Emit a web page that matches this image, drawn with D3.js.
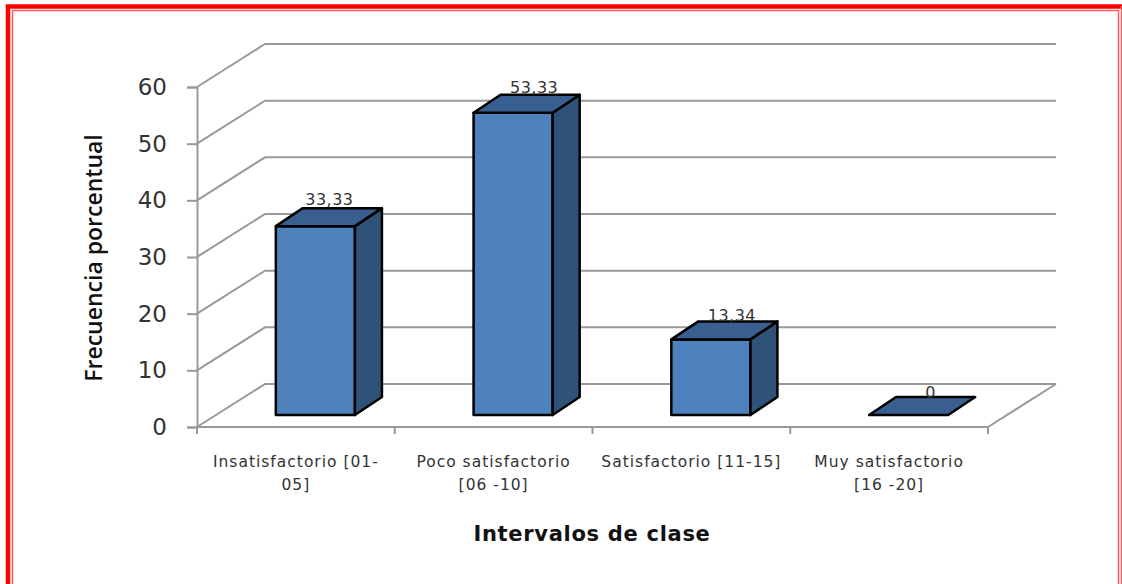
<!DOCTYPE html>
<html>
<head>
    <title>Frecuencia porcentual</title>
    <script src="https://d3js.org/d3.v7.min.js"></script>
    <style>
        html, body { margin: 0; padding: 0; background: #fff; overflow: hidden; }
        svg { display: block; }
        text { font-family: "DejaVu Sans", sans-serif; fill: #333; }
        .title { fill: #111; font-weight: bold; }
        #ytitle { font-family: "Open Sans", sans-serif; font-weight: 600; }
    </style>
</head>
<body>
    <div id="chart"></div>
    <script>
        const categories = [["Insatisfactorio [01-", "05]"], ["Poco satisfactorio", "[06 -10]"], ["Satisfactorio [11-15]"], ["Muy satisfactorio", "[16 -20]"]];
        const values = [33.33, 53.33, 13.34, 0];
        const valueLabels = ["33,33", "53,33", "13,34", "0"];
        const yTicks = [0, 10, 20, 30, 40, 50, 60];

        const svg = d3.select("#chart").append("svg").attr("width", 1122).attr("height", 584);

        // frame: thick red line and a thin one inside it
        svg.append("rect").attr("x", 8).attr("y", 6.5).attr("width", 1130).attr("height", 600)
            .attr("fill", "none").attr("stroke", "#ff0000").attr("stroke-width", 4.5);
        svg.append("rect").attr("x", 12.5).attr("y", 10.5).attr("width", 1106).attr("height", 600)
            .attr("fill", "none").attr("stroke", "#ff5a5a").attr("stroke-width", 1.5);
        svg.append("line").attr("x1", 1121.5).attr("x2", 1121.5).attr("y1", 6).attr("y2", 584)
            .attr("stroke", "#ff5a5a").attr("stroke-width", 1.5);

        const x = d3.scaleBand().domain(d3.range(categories.length)).range([197, 988])
            .paddingInner(0.6).paddingOuter(0.3);
        const y = d3.scaleLinear().domain([0, 60]).range([427, 87]);
        const h = d3.scaleLinear().domain([0, 60]).range([0, 340]);

        const wallDx = 68, wallDy = -43;
        const floorDx = 19.5, floorDy = -12;
        const barDx = 27, barDy = -18;
        const grey = "#999";

        // back wall and side wall
        const grid = svg.append("g").attr("fill", "none").attr("stroke", grey).attr("stroke-width", 2);
        grid.selectAll("path").data(yTicks).enter().append("path")
            .attr("d", d => `M197,${y(d)}L${197 + wallDx},${y(d) + wallDy}H${988 + wallDx}`);
        // floor edge on the right
        grid.append("path").attr("d", `M988,${y(0)}L${988 + wallDx},${y(0) + wallDy}`);

        // axes
        const yAxis = d3.axisLeft(y).tickValues(yTicks).tickSize(10).tickPadding(20);
        const gy = svg.append("g").attr("transform", "translate(197,0)").call(yAxis);
        gy.selectAll("path,line").attr("stroke", grey).attr("stroke-width", 2);
        gy.selectAll("text").attr("font-size", 23);

        const xTickPos = d3.range(categories.length + 1).map(i => 197 + i * x.step());
        svg.append("line").attr("x1", 197).attr("x2", 988).attr("y1", y(0)).attr("y2", y(0))
            .attr("stroke", grey).attr("stroke-width", 2);
        svg.selectAll(".xtick").data(xTickPos).enter().append("line").attr("class", "xtick")
            .attr("x1", d => d).attr("x2", d => d).attr("y1", y(0)).attr("y2", y(0) + 7)
            .attr("stroke", grey).attr("stroke-width", 2);

        // bars
        const bars = svg.selectAll(".bar").data(values).enter().append("g").attr("class", "bar")
            .attr("stroke", "#000").attr("stroke-width", 2.5).attr("stroke-linejoin", "round");
        const left = (d, i) => x(i) + floorDx;
        const base = y(0) + floorDy;
        const bw = x.bandwidth();
        bars.filter(d => d > 0).append("rect")
            .attr("x", left).attr("y", d => base - h(d))
            .attr("width", bw).attr("height", d => h(d)).attr("fill", "#4f81bd");
        bars.filter(d => d > 0).append("path").attr("fill", "#2f5279")
            .attr("d", (d, i) => {
                const r = x(i) + floorDx + bw;
                return `M${r},${base}V${base - h(d)}l${barDx},${barDy}V${base + barDy}Z`;
            });
        bars.append("path").attr("fill", "#385f8f")
            .attr("d", (d, i) => `M${left(d, i)},${base - h(d)}h${bw}l${barDx},${barDy}h${-bw}Z`);

        // value labels, nudged by hand like the original ones
        const nudgeX = [0, 7, 7, 8], nudgeY = [0, 1, 3, 4];
        svg.selectAll(".val").data(values).enter().append("text").attr("class", "val")
            .attr("x", (d, i) => left(d, i) + bw / 2 + 14 + nudgeX[i])
            .attr("y", (d, i) => base - h(d) + barDy - 3 + nudgeY[i])
            .attr("text-anchor", "middle").attr("font-size", 16).attr("letter-spacing", 0.5)
            .text((d, i) => valueLabels[i]);

        // category labels
        const cat = svg.selectAll(".cat").data(categories).enter().append("text").attr("class", "cat")
            .attr("text-anchor", "middle").attr("font-size", 15.5).attr("letter-spacing", 1);
        cat.selectAll("tspan").data((d, i) => d.map(t => ({ t, i }))).enter().append("tspan")
            .attr("x", d => x(d.i) + bw / 2)
            .attr("y", (d, j) => 467 + j * 23)
            .text(d => d.t);

        svg.append("text").attr("class", "title").attr("x", 592).attr("y", 541).attr("text-anchor", "middle")
            .attr("font-size", 21).attr("letter-spacing", 0.7).text("Intervalos de clase");
        svg.append("text").attr("class", "title").attr("id", "ytitle")
            .attr("transform", "translate(102,258) rotate(-90)").attr("text-anchor", "middle")
            .attr("font-size", 23).text("Frecuencia porcentual");
    </script>
</body>
</html>
